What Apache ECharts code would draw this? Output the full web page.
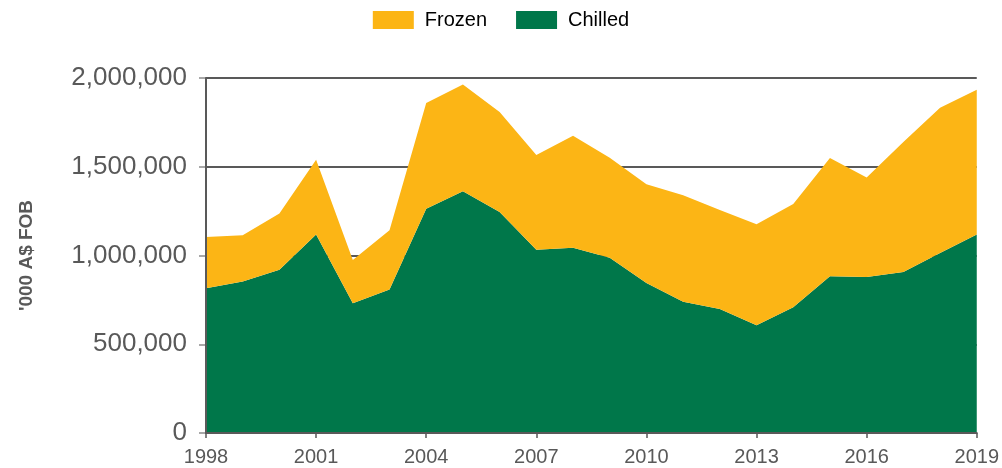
<!DOCTYPE html>
<html>
<head>
<meta charset="utf-8">
<script src="https://cdn.jsdelivr.net/npm/echarts@6/dist/echarts.min.js"></script>
<style>
html,body{margin:0;padding:0;background:#fff;}
#chart{width:1002px;height:468px;}
</style>
</head>
<body>
<div id="chart"></div>
<script>
var years = ['1998','1999','2000','2001','2002','2003','2004','2005','2006','2007','2008','2009','2010','2011','2012','2013','2014','2015','2016','2017','2018','2019'];
var chilled = [815000,853000,920000,1119000,731000,808000,1264000,1362000,1245000,1033000,1044000,987000,845000,740000,699000,607000,708000,883000,879000,907000,1014000,1119000];
var frozen  = [289000,261000,316000,421000,244000,334000,595000,602000,564000,533000,631000,564000,556000,599000,557000,569000,582000,666000,560000,733000,819000,815000];
var yTicks = [0,500000,1000000,1500000,2000000];

var FONT = 'Liberation Sans, Arial, sans-serif';
var chart = echarts.init(document.getElementById('chart'), null, {renderer:'canvas'});
chart.setOption({
  animation:false,
  textStyle:{fontFamily:FONT},
  legend:{
    data:['Frozen','Chilled'],
    top:5, left:'center', icon:'rect',
    itemWidth:41, itemHeight:18, itemGap:29,
    textStyle:{fontSize:20, color:'#000', fontFamily:FONT, padding:[0,0,0,6]}
  },
  grid:{left:206, right:24, top:78, bottom:35, containLabel:false},
  xAxis:{
    type:'category', data:years, boundaryGap:false, z:5,
    axisLine:{lineStyle:{color:'#595959', width:2}},
    axisTick:{interval:2, length:5, lineStyle:{color:'#595959', width:1.5}},
    axisLabel:{interval:2, fontSize:20, color:'#595959', margin:14, fontFamily:FONT},
    splitLine:{show:false}
  },
  yAxis:[{
    type:'value', min:yTicks[0], max:yTicks[yTicks.length-1], interval:500000,
    name:"'000 A$ FOB", nameLocation:'middle', nameGap:170, nameRotate:90,
    nameTextStyle:{fontSize:19, fontWeight:'bold', color:'#595959', fontFamily:FONT},
    axisLine:{show:false},
    axisTick:{show:true, length:7, lineStyle:{color:'#8c8c8c', width:1.5}},
    axisLabel:{fontSize:26, color:'#595959', margin:19, fontFamily:FONT,
      formatter:function(v){return v.toLocaleString('en-US');}},
    splitLine:{show:true, lineStyle:{color:'#595959', width:2}}
  },{
    type:'value', min:yTicks[0], max:yTicks[yTicks.length-1], interval:500000,
    position:'left', offset:0, z:5,
    axisLine:{show:true, lineStyle:{color:'#595959', width:2}},
    axisTick:{show:false}, axisLabel:{show:false}, splitLine:{show:false}
  }],
  series:[
    {name:'Chilled', type:'line', stack:'total', data:chilled, symbol:'none',
      lineStyle:{width:0}, itemStyle:{color:'#00774A'}, areaStyle:{color:'#00774A', opacity:1}},
    {name:'Frozen', type:'line', stack:'total', data:frozen, symbol:'none',
      lineStyle:{width:0}, itemStyle:{color:'#FCB515'}, areaStyle:{color:'#FCB515', opacity:1}}
  ]
});
</script>
</body>
</html>
